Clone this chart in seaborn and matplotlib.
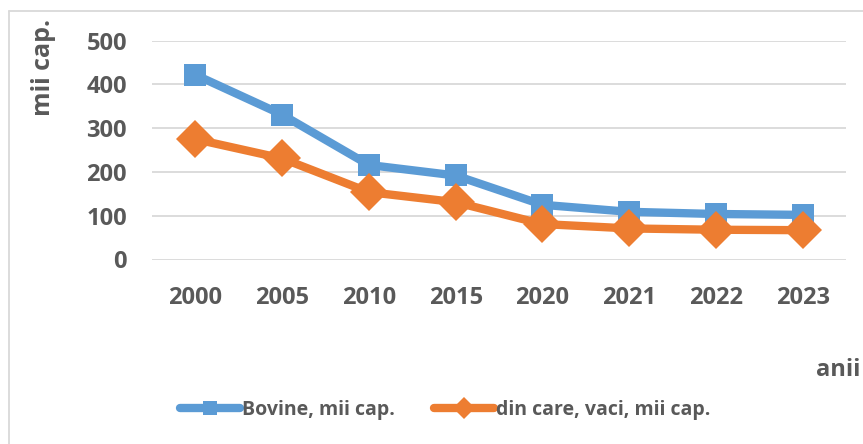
import matplotlib
matplotlib.use("Agg")
import matplotlib.pyplot as plt
from matplotlib.lines import Line2D
import seaborn as sns
import pandas as pd

# Data
years = ["2000", "2005", "2010", "2015", "2020", "2021", "2022", "2023"]
bovine = [422, 331, 216, 192, 125, 109, 104, 102]
cows = [275, 231, 154, 131, 81, 71, 68, 67]
series_names = ["Bovine, mii cap.", "din care, vaci, mii cap."]
yticks = [0, 100, 200, 300, 400, 500]

BLUE = "#5B9BD5"
ORANGE = "#ED7D31"
GREY_TXT = "#595959"
GRID = "#D9D9D9"

sns.set_theme(style="white")
plt.rcParams["font.family"] = ["Open Sans", "DejaVu Sans"]

df = pd.DataFrame({"an": years, series_names[0]: bovine, series_names[1]: cows})

fig = plt.figure(figsize=(8.63, 4.44), dpi=100)
ax = fig.add_axes([152 / 863, 1 - 259.5 / 444, 694 / 863, (259.5 - 40.7) / 444])

sns.lineplot(data=df, x="an", y=series_names[0], ax=ax, color=BLUE, lw=6,
             marker="s", markersize=16, markeredgewidth=0, sort=False,
             label=series_names[0])
sns.lineplot(data=df, x="an", y=series_names[1], ax=ax, color=ORANGE, lw=6,
             marker="D", markersize=19, markeredgewidth=0, sort=False,
             label=series_names[1])

ax.set_xlim(-0.5, len(years) - 0.5)
ax.set_ylim(0, 500)
ax.set_yticks(yticks)
ax.yaxis.grid(True, color=GRID, lw=1.3)
ax.set_axisbelow(True)
for s in ax.spines.values():
    s.set_visible(False)
ax.set_xlabel("")
ax.set_ylabel("")
ax.tick_params(axis="both", length=0, labelsize=17, labelcolor=GREY_TXT)
ax.tick_params(axis="x", pad=19)
ax.tick_params(axis="y", pad=18)
for lab in ax.get_xticklabels() + ax.get_yticklabels():
    lab.set_fontweight("bold")

handles, labels = ax.get_legend_handles_labels()
ax.legend_.remove()
fig.legend(handles, labels, loc="center", bbox_to_anchor=(445 / 863, 1 - 410 / 444),
           ncol=2, frameon=False, handlelength=3.1, handletextpad=0.1,
           columnspacing=2.0, markerscale=0.6, prop={"weight": "bold", "size": 14},
           labelcolor=GREY_TXT)

# axis titles
fig.text(43 / 863, 1 - 68 / 444, "mii cap.", rotation=90, ha="center", va="center",
         fontsize=18, fontweight="bold", color=GREY_TXT)
fig.text(860 / 863, 1 - 376 / 444, "anii", ha="right", va="baseline",
         fontsize=17, fontweight="bold", color=GREY_TXT)

# chart area border (extends past the right and bottom edges)
fig.add_artist(Line2D([9 / 863, 1.01], [1 - 11.5 / 444] * 2, color=GRID, lw=1.3))
fig.add_artist(Line2D([9 / 863] * 2, [1 - 11.5 / 444, -0.01], color=GRID, lw=1.3))

fig.savefig("out.png", dpi=100)
